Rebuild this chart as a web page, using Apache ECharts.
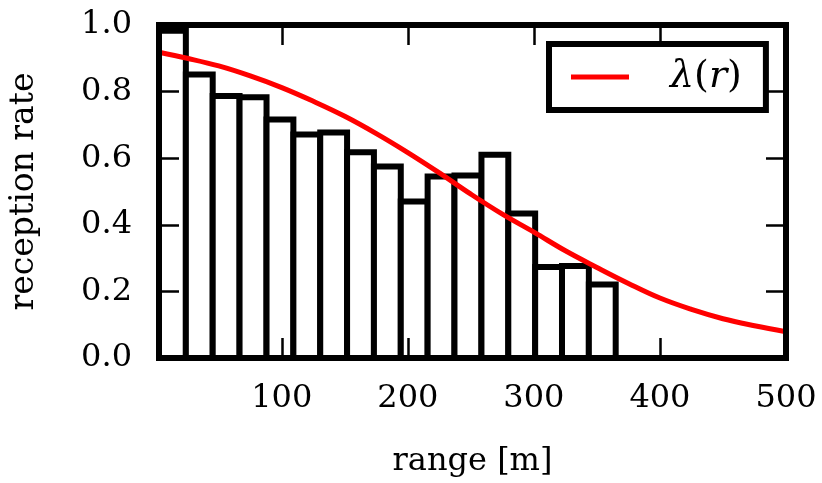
<!DOCTYPE html>
<html>
<head>
<meta charset="utf-8">
<script src="https://cdn.jsdelivr.net/npm/echarts@6/dist/echarts.min.js"></script>
<style>html,body{margin:0;padding:0;background:#fff;}#c{width:822px;height:483px;}</style>
</head>
<body>
<div id="c"></div>
<script>
// Histogram bin edges (range in m) and reception rate per bin
const binEdges = [2.6, 23.9, 45.2, 66.5, 87.9, 109.2, 130.5, 151.8, 173.1, 194.4, 215.7, 237.0, 258.4, 279.7, 301.0, 322.3, 343.6, 364.9];
const binRates = [0.983, 0.851, 0.787, 0.783, 0.716, 0.671, 0.677, 0.618, 0.575, 0.470, 0.545, 0.548, 0.610, 0.434, 0.273, 0.276, 0.221];
// Fitted curve lambda(r)
const curveR = [2.6, 25, 50, 75, 100, 125, 150, 175, 200, 225, 250, 275, 300, 325, 350, 375, 400, 425, 450, 475, 500];
const curveV = [0.918, 0.90, 0.877, 0.847, 0.812, 0.771, 0.726, 0.674, 0.617, 0.556, 0.492, 0.432, 0.378, 0.322, 0.272, 0.224, 0.180, 0.146, 0.118, 0.097, 0.079];
const xTickValues = [100, 200, 300, 400, 500];
const curveName = 'λ(r)';

const FONT = 'DejaVu Serif';
const histData = binRates.map((v, i) => [binEdges[i], binEdges[i + 1], v]);
const curveData = curveR.map((r, i) => [r, curveV[i]]);

const tickStyle = { show: true, inside: true, length: 20, lineStyle: { color: '#000', width: 2.5 } };
const frameLine = { show: true, onZero: false, lineStyle: { color: '#000', width: 6 } };

const chart = echarts.init(document.getElementById('c'), null, { renderer: 'canvas' });
chart.setOption({
  animation: false,
  backgroundColor: '#fff',
  grid: { left: 158, right: 36, top: 25, bottom: 123, show: true, borderColor: '#000', borderWidth: 6, backgroundColor: '#fff' },
  legend: {
    data: [curveName],
    left: 549, top: 44,
    itemWidth: 58, itemHeight: 5, icon: 'rect',
    padding: [14, 24, 14, 22],
    borderColor: '#000', borderWidth: 6, borderRadius: 0,
    backgroundColor: '#fff',
    formatter: () => '{i|λ}(' + '{i|r})',
    textStyle: {
      fontFamily: FONT, fontSize: 38, color: '#000', padding: [0, 0, 0, 36],
      rich: { i: { fontFamily: FONT, fontSize: 38, fontStyle: 'italic', color: '#000' } }
    }
  },
  xAxis: [
    {
      type: 'value', position: 'bottom', min: binEdges[0], max: 500, z: 10,
      axisLine: frameLine,
      axisTick: Object.assign({ customValues: xTickValues }, tickStyle),
      axisLabel: { customValues: xTickValues, fontFamily: FONT, fontSize: 32, color: '#000', margin: 25 },
      splitLine: { show: false },
      name: 'range [m]', nameLocation: 'middle', nameGap: 88,
      nameTextStyle: { fontFamily: FONT, fontSize: 32, color: '#000' }
    },
    {
      type: 'value', position: 'top', min: binEdges[0], max: 500, z: 10,
      axisLine: frameLine,
      axisTick: Object.assign({ customValues: xTickValues }, tickStyle),
      axisLabel: { show: false },
      splitLine: { show: false }
    }
  ],
  yAxis: [
    {
      type: 'value', position: 'left', min: 0, max: 1, interval: 0.2, z: 10,
      axisLine: frameLine,
      axisTick: tickStyle,
      axisLabel: { fontFamily: FONT, fontSize: 32, color: '#000', margin: 27, formatter: v => v.toFixed(1) },
      splitLine: { show: false },
      name: 'reception rate', nameLocation: 'middle', nameGap: 118,
      nameTextStyle: { fontFamily: FONT, fontSize: 33, color: '#000' }
    },
    {
      type: 'value', position: 'right', min: 0, max: 1, interval: 0.2, z: 10,
      axisLine: frameLine,
      axisTick: tickStyle,
      axisLabel: { show: false },
      splitLine: { show: false }
    }
  ],
  series: [
    {
      type: 'custom', name: 'hist', xAxisIndex: 0, yAxisIndex: 0, z: 2,
      data: histData,
      encode: { x: [0, 1], y: 2 },
      renderItem: function (params, api) {
        const p0 = api.coord([api.value(0), api.value(2)]);
        const p1 = api.coord([api.value(1), 0]);
        return {
          type: 'rect',
          shape: { x: p0[0], y: p0[1], width: p1[0] - p0[0], height: p1[1] - p0[1] },
          style: { fill: '#fff', stroke: '#000', lineWidth: 6 }
        };
      }
    },
    {
      type: 'line', name: curveName, xAxisIndex: 0, yAxisIndex: 0, z: 3,
      data: curveData, smooth: 0.4, showSymbol: false, symbol: 'none',
      color: '#ff0000',
      lineStyle: { color: '#ff0000', width: 5 }
    }
  ]
});
</script>
</body>
</html>
